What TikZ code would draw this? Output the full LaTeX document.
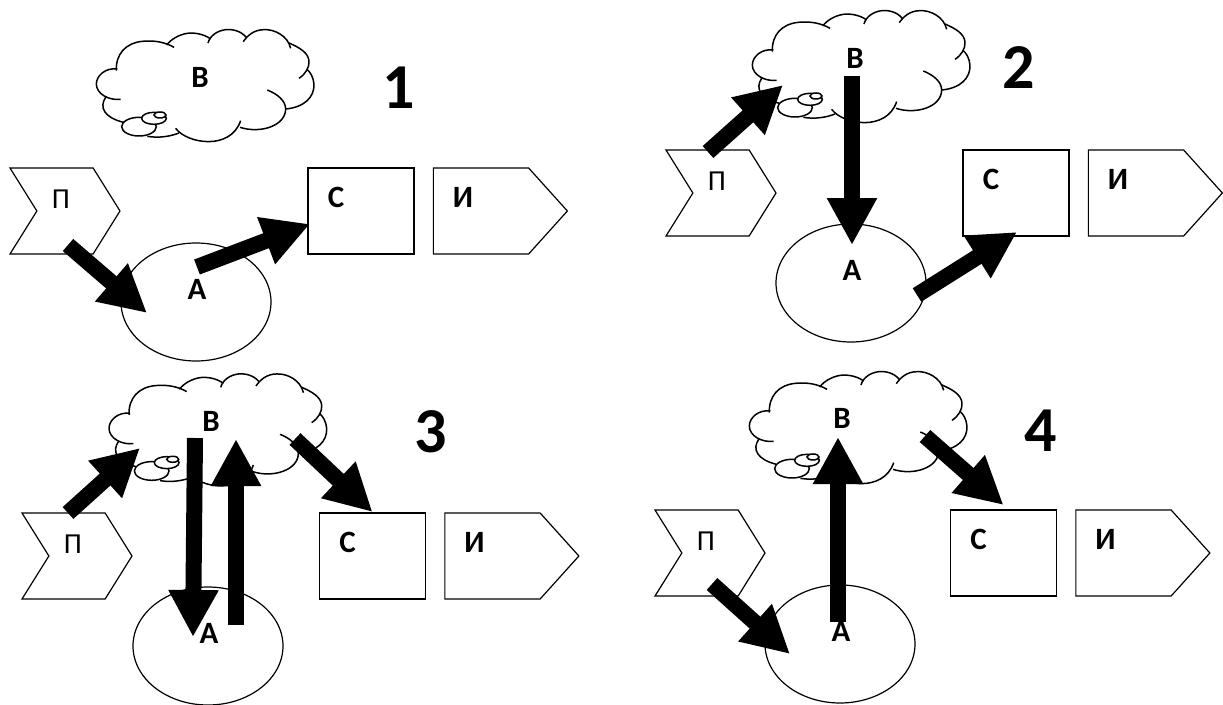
\documentclass[tikz,border=0pt]{standalone}
\usepackage{fontspec}
\setmainfont{Carlito}
\usetikzlibrary{arrows.meta,calc,shapes.geometric,shapes.symbols}
\tikzset{
  outline/.style={draw=black,line width=1.2pt,inner sep=0pt,outer sep=0pt},
  chevron/.style={outline,signal,signal from=west,signal to=east,signal pointer angle=116,minimum width=110pt,minimum height=86pt},
  pentabox/.style={outline,signal,signal to=east,signal pointer angle=96,minimum width=134pt,minimum height=86pt},
  squarebox/.style={outline,rectangle,minimum width=106pt,minimum height=86pt},
  roundbox/.style={outline,ellipse,minimum width=150pt,minimum height=118pt},
  thin letter/.style={inner sep=0pt,font=\fontsize{29}{29}\selectfont},
  bold letter/.style={inner sep=0pt,font=\fontsize{31}{31}\selectfont\bfseries},
  big digit/.style={inner sep=0pt,font=\fontsize{64}{64}\selectfont\bfseries},
  flowarrow/.style={line width=16pt,-{Triangle[length=47pt,width=47pt]}},
  pics/thoughtcloud/.style={code={
    \begin{scope}[x=.3333pt,y=-.3333pt,line width=1.5pt]
      \draw (100,150) .. controls (65,145) and (37,170) .. (37,195) .. controls (37,225) and (75,245) .. (110,241);
      \draw (65,235) .. controls (45,265) and (60,295) .. (118,310);
      \draw (190,352) .. controls (225,358) and (260,352) .. (285,342);
      \draw (275,328) .. controls (310,375) and (440,395) .. (470,305);
      \draw (468,325) .. controls (530,345) and (605,320) .. (605,270) .. controls (605,245) and (580,225) .. (550,213);
      \draw (605,270) .. controls (660,265) and (692,235) .. (690,195) .. controls (688,175) and (680,160) .. (668,150);
      \draw (645,178) .. controls (665,165) and (677,145) .. (675,125) .. controls (672,100) and (645,85) .. (615,72);
      \draw (620,88) .. controls (612,50) and (570,30) .. (540,32) .. controls (510,32) and (490,50) .. (478,68);
      \draw (487,55) .. controls (470,35) and (445,30) .. (425,32) .. controls (400,35) and (378,50) .. (372,72);
      \draw (380,60) .. controls (360,45) and (330,40) .. (310,43) .. controls (285,47) and (262,60) .. (248,78);
      \draw (270,85) .. controls (245,70) and (210,63) .. (175,67) .. controls (125,72) and (95,105) .. (97,155);
      \draw[fill=white] (165,323) ellipse (52 and 28);
      \draw[fill=white] (210,298) ellipse (37 and 18);
      \draw[fill=white] (228,288) ellipse (18 and 9);
    \end{scope}
  }},
}
\begin{document}
\begin{tikzpicture}[x=1pt,y=-1pt]
\useasboundingbox (0,0) rectangle (1223,704);
% one row per panel
\foreach \n/\px/\py/\cx/\ax/\ay/\ox/\oy/\bx/\by/\dx/\dy in {
  1/65/211/361/196/302/84/19/200/77/399/88,
  2/721/193/1016/851/283/740/0/855/58/1019/68,
  3/77/556/372.5/208/646/96.7/363.3/211/421/431/432,
  4/710/553/1003.5/840/644/737/361/842/418/1041/431}
{
  \node[chevron] (p\n) at (\px,\py) {};
  \node[thin letter] (pt\n) at (\px-4,\py-12) {П};
  \node[squarebox] (c\n) at (\cx,\py) {};
  \node[bold letter] (ct\n) at (\cx-25,\py-14) {С};
  \node[pentabox] (i\n) at (\cx+120,\py) {};
  \node[bold letter] (it\n) at (\cx+102,\py-14) {И};
  \node[roundbox] (a\n) at (\ax,\ay) {};
  \node[bold letter] (at\n) at (\ax+1,\ay-13) {А};
  \pic at (\ox,\oy) {thoughtcloud};
  \node[bold letter] (b\n) at (\bx,\by) {В};
  \node[big digit] (num\n) at (\dx,\dy) {\n};
}
% panel 1
\draw[flowarrow] ($(p1)+(3,34)$) -- ($(a1)+(-49,11)$);
\draw[flowarrow] ($(a1)+(1,-35)$) -- ($(c1)+(-51,13)$);
% panel 2
\draw[flowarrow] ($(p2)+(-13,-41)$) -- ($(b2)+(-72,27)$);
\draw[flowarrow] ($(b2)+(-3,18)$) -- ($(a2)+(1,-38)$);
\draw[flowarrow] ($(a2)+(66,12)$) -- ($(c2)+(1,39)$);
% panel 3
\draw[flowarrow] ($(p3)+(-9,-43)$) -- ($(b3)+(-71,27)$);
\draw[flowarrow] ($(b3)+(-16,17)$) -- ($(a3)+(-15,-9)$);
\draw[flowarrow] ($(a3)+(28,-21)$) -- ($(b3)+(25,18)$);
\draw[flowarrow] ($(b3)+(84,18)$) -- ($(c3)+(0,-44)$);
% panel 4
\draw[flowarrow] ($(p4)+(2,31)$) -- ($(a4)+(-50,10)$);
\draw[flowarrow] ($(a4)+(-2,-22)$) -- ($(b4)+(-4,19)$);
\draw[flowarrow] ($(b4)+(83,18)$) -- ($(c4)+(0,-48)$);
\end{tikzpicture}
\end{document}
